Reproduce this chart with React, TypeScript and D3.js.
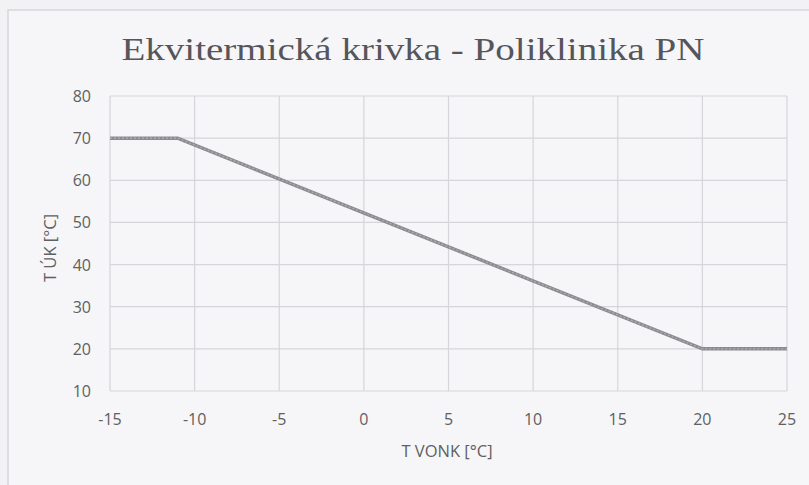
import React from "react";
import * as d3 from "d3";

const outsideTemp = [-15, -11, 20, 25];
const supplyTemp = [70, 70, 20, 20];
const xTicks = [-15, -10, -5, 0, 5, 10, 15, 20, 25];
const yTicks = [10, 20, 30, 40, 50, 60, 70, 80];
const title = "Ekvitermická krivka - Poliklinika PN";
const xLabel = "T VONK [°C]";
const yLabel = "T ÚK [°C]";

export default function App() {
  const W = 809, H = 485;
  const x = d3.scaleLinear().domain([-15, 25]).range([110, 787]);
  const y = d3.scaleLinear().domain([10, 80]).range([391, 96]);
  const pts = outsideTemp.map((t, i) => [t, supplyTemp[i]] as [number, number]);
  const line = d3.line<[number, number]>().x(d => x(d[0])).y(d => y(d[1]));
  const font = "'Open Sans', 'DejaVu Sans', sans-serif";
  return (
    <svg width={W} height={H} style={{ position: "absolute", left: 0, top: 0 }}>
      <rect x={0} y={0} width={W} height={H} fill="#f2f2f5" />
      <rect x={8} y={10} width={W + 10} height={H + 10} fill="#f6f6f8" stroke="#d8d8dc" strokeWidth={1.5} />
      <text x={413} y={60} textAnchor="middle" fontFamily="'Liberation Serif', 'DejaVu Serif', serif" fontSize={31} fill="#55555a" textLength={583} lengthAdjust="spacingAndGlyphs">{title}</text>
      {xTicks.map(t => (
        <line key={"gx" + t} x1={x(t)} x2={x(t)} y1={y(80)} y2={y(10)} stroke="#d6d6da" strokeWidth={1.2} />
      ))}
      {yTicks.map(t => (
        <line key={"gy" + t} x1={x(-15)} x2={x(25)} y1={y(t)} y2={y(t)} stroke="#d6d6da" strokeWidth={1.2} />
      ))}
      {yTicks.map(t => (
        <text key={"ty" + t} x={91} y={y(t) + 6} textAnchor="end" fontFamily={font} fontSize={16} fill="#606060">{t}</text>
      ))}
      {xTicks.map(t => (
        <text key={"tx" + t} x={x(t)} y={425} textAnchor="middle" fontFamily={font} fontSize={16} fill="#606060">{t}</text>
      ))}
      <text x={447} y={457} textAnchor="middle" fontFamily={font} fontSize={16.5} fill="#606060">{xLabel}</text>
      <text transform={`translate(56,248) rotate(-90)`} textAnchor="middle" fontFamily={font} fontSize={16.5} fill="#606060">{yLabel}</text>
      <path d={line(pts) || ""} fill="none" stroke="#8c8c90" strokeWidth={3.5} />
      <path d={line(pts) || ""} fill="none" stroke="#b0b0b4" strokeWidth={1.2} strokeDasharray="2 2" />
    </svg>
  );
}
